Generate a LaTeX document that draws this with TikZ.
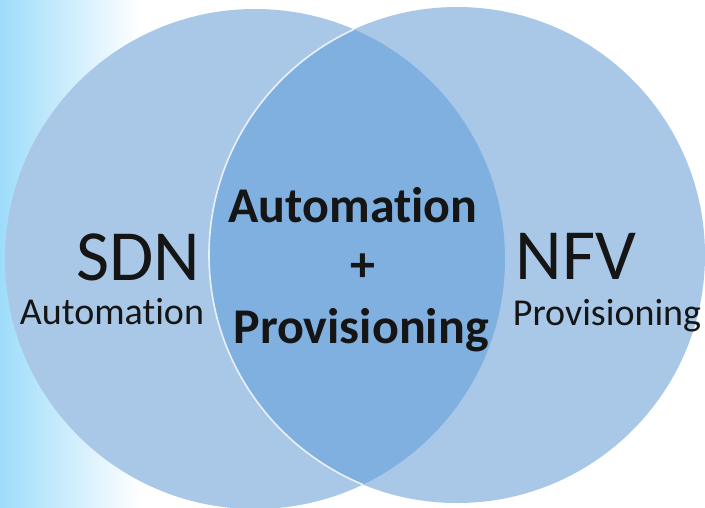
\documentclass[tikz,border=0pt]{standalone}
\usepackage{fontspec}
\setmainfont{Carlito}[Ligatures=NoCommon]
\definecolor{bgcyan}{HTML}{9EDCFA}
\definecolor{outer}{HTML}{A9C8E7}
\definecolor{lens}{HTML}{7FB0E0}
\definecolor{ink}{HTML}{151515}
\tikzset{
  lbl/.style={text=ink, inner sep=0pt, anchor=center},
  big/.style={lbl, font=\fontsize{72}{72}\selectfont},
  small/.style={lbl, font=\fontsize{38}{38}\selectfont},
  mid/.style={lbl, font=\fontsize{50}{50}\selectfont\bfseries},
}
\begin{document}
\begin{tikzpicture}[x=1pt,y=-1pt]
\useasboundingbox (0,0) rectangle (705,507);
\clip (0,0) rectangle (705,507);
\fill[white] (0,0) rectangle (705,507);
\shade[left color=bgcyan, right color=white] (0,0) rectangle (140,507);
% circles
\coordinate (lc) at (255,259);
\coordinate (rc) at (457,255);
\fill[outer] (lc) circle[radius=250];
\fill[outer] (rc) circle[radius=248];
\begin{scope}
  \clip (lc) circle[radius=250];
  \fill[lens] (rc) circle[radius=248];
  \draw[white!75!outer, line width=1.6pt] (rc) circle[radius=248];
\end{scope}
% labels
\node[big] (sdn) at (138,257) {SDN};
\node[small] (sdnsub) at (112,312) {Automation};
\node[mid] (c1) at (353,205) {Automation};
\node[mid] (plus) at (363,268) {+};
\node[mid] (c2) at (361,330) {Provisioning};
\node[big] (nfv) at (576,256) {NFV};
\node[small] (nfvsub) at (607,316) {Provisioning};
\end{tikzpicture}
\end{document}
